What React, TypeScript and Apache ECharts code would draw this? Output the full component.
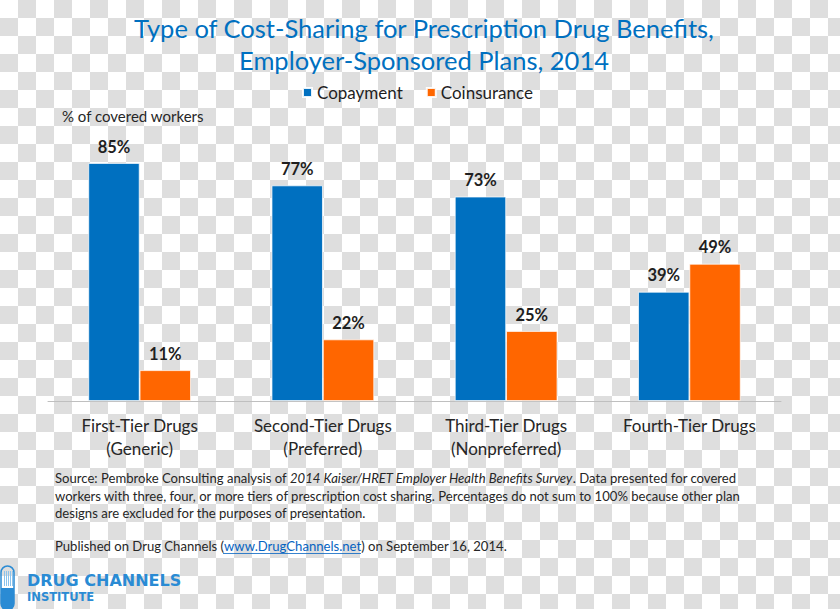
import React, { useEffect, useRef } from "react";
import * as echarts from "echarts";

const categories = [
  "First-Tier Drugs\n(Generic)",
  "Second-Tier Drugs\n(Preferred)",
  "Third-Tier Drugs\n(Nonpreferred)",
  "Fourth-Tier Drugs",
];
const copayment = [85, 77, 73, 39];
const coinsurance = [11, 22, 25, 49];
const seriesNames = ["Copayment", "Coinsurance"];

const BLUE = "#0070C0";
const ORANGE = "#FF6600";
const TXT = "#1f1f1f";
const FONT = "Lato, 'Open Sans', sans-serif";
const SRC = 13.1;
const GREY = "#dedede";

function checkerRects(w: number, h: number, s: number) {
  const rects: any[] = [];
  for (let j = 0; j * s < h; j++) {
    for (let i = 0; i * s < w; i++) {
      if ((i + j) % 2 === 1) {
        rects.push({
          type: "rect",
          z: -1,
          silent: true,
          shape: { x: i * s, y: j * s, width: s, height: s },
          style: { fill: GREY, stroke: "none" },
        });
      }
    }
  }
  return rects;
}

export default function App() {
  const ref = useRef<HTMLDivElement>(null);
  useEffect(() => {
    if (!ref.current) return;
    const chart = echarts.init(ref.current, undefined, { renderer: "svg" });
    const labelStyle = {
      show: true,
      position: "top" as const,
      distance: 8,
      fontSize: 16.5,
      fontWeight: "bold" as const,
      color: TXT,
      fontFamily: FONT,
      formatter: "{c}%",
    };
    chart.setOption({
      animation: false,
      backgroundColor: "#ffffff",
      textStyle: { fontFamily: FONT },
      title: {
        text: "Type of Cost-Sharing for Prescription Drug Benefits,\nEmployer-Sponsored Plans, 2014",
        left: 419,
        textAlign: "center",
        top: 7,
        textStyle: {
          fontSize: 25.5,
          fontWeight: "normal",
          color: BLUE,
          lineHeight: 32,
          fontFamily: FONT,
        },
      },
      legend: {
        data: seriesNames,
        top: 84,
        left: 302,
        padding: 0,
        icon: "rect",
        itemWidth: 9,
        itemHeight: 9,
        itemGap: 23,
        textStyle: { fontSize: 17, color: TXT, fontFamily: FONT },
      },
      grid: { left: 48, right: 59, top: 121, bottom: 208 },
      xAxis: {
        type: "category",
        data: categories,
        axisLine: { lineStyle: { color: "#bfbfbf", width: 1 } },
        axisTick: { show: false },
        axisLabel: {
          fontSize: 17,
          lineHeight: 23,
          color: "#262626",
          margin: 13,
          fontFamily: FONT,
        },
      },
      yAxis: {
        type: "value",
        min: 0,
        max: 100,
        show: false,
        splitLine: { show: false },
      },
      series: [
        {
          name: seriesNames[0],
          type: "bar",
          data: copayment,
          barWidth: "28%",
          barGap: "0%",
          itemStyle: { color: BLUE, borderColor: "rgba(255,255,255,0.9)", borderWidth: 0.8 },
          label: labelStyle,
        },
        {
          name: seriesNames[1],
          type: "bar",
          data: coinsurance,
          barWidth: "28%",
          barGap: "0%",
          itemStyle: { color: ORANGE, borderColor: "rgba(255,255,255,0.9)", borderWidth: 0.8 },
          label: labelStyle,
        },
      ],
      graphic: [
        ...checkerRects(840, 609, 18),
        {
          type: "text",
          left: 62,
          top: 108,
          style: { text: "% of covered workers", fontSize: 15, fill: "#262626", fontFamily: FONT },
        },
        {
          type: "text",
          left: 55,
          top: 471,
          style: {
            text: "Source: Pembroke Consulting analysis of {i|2014 Kaiser/HRET Employer Health Benefits Survey}. Data presented for covered",
            fontSize: SRC,
            fill: "#262626",
            fontFamily: FONT,
            rich: { i: { fontStyle: "italic", fontSize: SRC, fill: "#262626", fontFamily: FONT } },
          },
        },
        {
          type: "text",
          left: 55,
          top: 489,
          style: {
            text: "workers with three, four, or more tiers of prescription cost sharing. Percentages do not sum to 100% because other plan",
            fontSize: SRC,
            fill: "#262626",
            fontFamily: FONT,
          },
        },
        {
          type: "text",
          left: 55,
          top: 506,
          style: {
            text: "designs are excluded for the purposes of presentation.",
            fontSize: SRC,
            fill: "#262626",
            fontFamily: FONT,
          },
        },
        {
          type: "text",
          left: 55,
          top: 539,
          style: {
            text: "Published on Drug Channels ({l|www.DrugChannels.net}) on September 16, 2014.",
            fontSize: SRC,
            fill: "#262626",
            fontFamily: FONT,
            rich: { l: { fill: "#0563C1", fontSize: SRC, fontFamily: FONT } },
          },
        },
        {
          type: "line",
          shape: { x1: 223, y1: 553.5, x2: 361, y2: 553.5 },
          style: { stroke: "#0563C1", lineWidth: 0.8 },
        },
        // logo capsule
        {
          type: "rect",
          shape: { x: 1, y: 566, width: 13, height: 44, r: 6.5 },
          style: { fill: "none", stroke: "#2a8bd4", lineWidth: 1.5 },
        },
        {
          type: "rect",
          shape: { x: 1, y: 588, width: 13, height: 22, r: [0, 0, 6.5, 6.5] },
          style: { fill: "#2a8bd4" },
        },
        ...[4, 6, 8, 10, 12].map((x) => ({
          type: "line",
          shape: { x1: x + 0.5, y1: 571, x2: x + 0.5, y2: 586 },
          style: { stroke: "#8cc3ec", lineWidth: 1 },
        })),
        {
          type: "text",
          left: 27,
          top: 572,
          style: {
            text: "DRUG CHANNELS",
            fontSize: 16,
            fontWeight: "bold",
            fill: "#2a8bd4",
            fontFamily: "'DejaVu Sans', sans-serif",
          },
        },
        {
          type: "text",
          left: 27,
          top: 591,
          style: {
            text: "INSTITUTE",
            fontSize: 11.5,
            fontWeight: "bold",
            fill: "#2a8bd4",
            fontFamily: "'DejaVu Sans', sans-serif",
          },
        },
      ],
    });
    return () => chart.dispose();
  }, []);
  return (
    <div
      ref={ref}
      style={{
        position: "absolute",
        left: 0,
        top: 0,
        width: 840,
        height: 609,
      }}
    />
  );
}
